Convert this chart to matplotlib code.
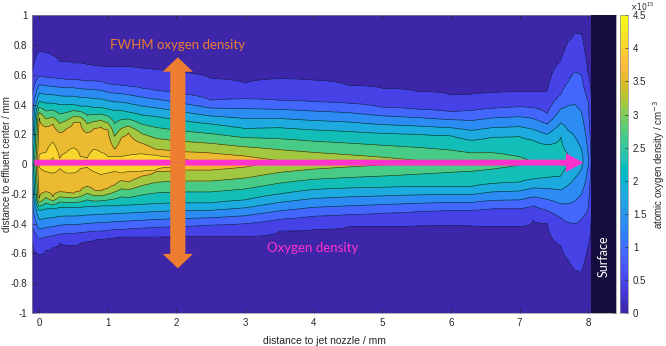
import numpy as np
import matplotlib
matplotlib.use("Agg")
from matplotlib import pyplot as plt
from matplotlib.colors import LinearSegmentedColormap, Normalize
from matplotlib.cm import ScalarMappable
from matplotlib.patches import Rectangle, FancyArrow

nan = np.nan

# measuring stations along the jet axis (mm)
x_st = [-0.1, 0.0, 0.1, 0.2, 0.3, 0.4, 0.5, 0.6, 0.7, 0.8, 0.9, 1.0, 1.1, 1.2, 1.3,
        1.5, 1.7, 2.0, 2.5, 3.0, 3.5, 4.0, 4.5, 5.0, 5.5, 6.0, 6.3, 6.6, 7.0, 7.2,
        7.4, 7.6, 7.7, 7.8, 7.9, 8.0, 8.05, 8.12, 8.4]
y_center = 0.02
# density on the axis (1e15 cm^-3)
peak = [2.0, 4.2, 4.4, 4.6, 4.2, 4.4, 4.55, 4.3, 4.25, 4.45, 4.4, 4.3, 4.3, 4.3, 4.35,
        4.3, 4.25, 4.15, 3.98, 3.8, 3.62, 3.5, 3.4, 3.3, 3.18, 3.05, 3.0, 2.95, 2.8, 2.68,
        2.55, 2.45, 2.3, 2.15, 1.95, 1.4, 0.8, 0, 0]
# y position (mm) where the profile crosses a given density, upper / lower side
up405 = [nan, 0.06, 0.08, 0.15, 0.04, 0.08, 0.11, 0.05, 0.04, 0.10, 0.08, 0.05, 0.05, 0.05, 0.06,
         0.07, 0.06, 0.045] + [nan] * 21
lo405 = [nan, -0.02, -0.05, -0.06, -0.03, -0.06, -0.06, -0.03, -0.02, -0.05, -0.07, -0.06, -0.05, -0.06, -0.05,
         -0.05, -0.04, -0.02] + [nan] * 21
up36 = [nan, 0.31, 0.25, 0.27, 0.21, 0.24, 0.28, 0.28, 0.21, 0.24, 0.25, 0.23, 0.10, 0.18, 0.21,
        0.14, 0.10, 0.085, 0.075, 0.055] + [nan] * 19
lo36 = [nan, -0.23, -0.185, -0.22, -0.185, -0.19, -0.196, -0.18, -0.15, -0.175, -0.18, -0.163, -0.14, -0.11, -0.12,
        -0.08, -0.05, -0.04, -0.04, -0.02] + [nan] * 19
up225 = [nan, 0.42, 0.41, 0.41, 0.40, 0.40, 0.40, 0.39, 0.39, 0.38, 0.38, 0.37, 0.36, 0.36, 0.35,
         0.33, 0.32, 0.30, 0.27, 0.24, 0.245, 0.23, 0.22, 0.207, 0.20, 0.19, 0.16, 0.18, 0.185, 0.16,
         0.13, 0.18, 0.07] + [nan] * 6
lo225 = [nan, -0.31, -0.30, -0.30, -0.29, -0.29, -0.29, -0.29, -0.285, -0.285, -0.28, -0.28, -0.28, -0.275, -0.275,
         -0.27, -0.265, -0.26, -0.26, -0.24, -0.20, -0.17, -0.16, -0.155, -0.15, -0.15, -0.15, -0.13, -0.12, -0.10,
         -0.09, -0.08, -0.02] + [nan] * 6
up09 = [0.46, 0.59, 0.585, 0.58, 0.575, 0.57, 0.57, 0.565, 0.56, 0.56, 0.555, 0.54, 0.535, 0.53, 0.525,
        0.51, 0.495, 0.476, 0.43, 0.44, 0.43, 0.42, 0.41, 0.383, 0.37, 0.353, 0.36, 0.375, 0.386, 0.38,
        0.34, 0.47, 0.55, 0.62, 0.60, 0.42, nan, nan, nan]
lo09 = [-0.42, -0.50, -0.49, -0.48, -0.47, -0.465, -0.465, -0.46, -0.455, -0.45, -0.45, -0.445, -0.44, -0.44, -0.435,
        -0.43, -0.425, -0.42, -0.41, -0.40, -0.37, -0.35, -0.34, -0.33, -0.32, -0.31, -0.31, -0.30, -0.30, -0.28,
        -0.31, -0.36, -0.39, -0.40, -0.37, -0.30, nan, nan, nan]
up045 = [0.62, 0.76, 0.75, 0.73, 0.69, 0.69, 0.68, 0.68, 0.67, 0.665, 0.66, 0.655, 0.655, 0.655, 0.655,
         0.645, 0.635, 0.62, 0.577, 0.545, 0.575, 0.565, 0.53, 0.51, 0.49, 0.465, 0.47, 0.48, 0.487, 0.487,
         0.49, 0.70, 0.82, 0.875, 0.88, 0.60, 0.38, nan, nan]
lo045 = [-0.52, -0.61, -0.58, -0.56, -0.53, -0.545, -0.55, -0.53, -0.52, -0.51, -0.505, -0.50, -0.495, -0.49, -0.49,
         -0.49, -0.49, -0.487, -0.487, -0.487, -0.45, -0.44, -0.42, -0.42, -0.415, -0.41, -0.415, -0.42, -0.42, -0.38,
         -0.40, -0.55, -0.64, -0.71, -0.73, -0.55, -0.30, nan, nan]

levels = [0, 0.45, 0.9, 1.35, 1.8, 2.25, 2.7, 3.15, 3.6, 4.05, 4.5, 5.0]
cb_ticks = [0, 0.5, 1, 1.5, 2, 2.5, 3, 3.5, 4, 4.5]

# parula colormap
parula = [
    [0.2422, 0.1504, 0.6603], [0.2504, 0.1650, 0.7076], [0.2578, 0.1818, 0.7511], [0.2647, 0.1978, 0.7952],
    [0.2706, 0.2147, 0.8364], [0.2751, 0.2342, 0.8710], [0.2783, 0.2559, 0.8991], [0.2803, 0.2782, 0.9221],
    [0.2813, 0.3006, 0.9414], [0.2810, 0.3228, 0.9579], [0.2795, 0.3447, 0.9717], [0.2760, 0.3667, 0.9829],
    [0.2699, 0.3892, 0.9906], [0.2602, 0.4123, 0.9952], [0.2440, 0.4358, 0.9988], [0.2206, 0.4603, 0.9973],
    [0.1963, 0.4847, 0.9892], [0.1834, 0.5074, 0.9798], [0.1786, 0.5289, 0.9682], [0.1764, 0.5499, 0.9520],
    [0.1687, 0.5703, 0.9359], [0.1540, 0.5902, 0.9218], [0.1460, 0.6091, 0.9079], [0.1380, 0.6276, 0.8973],
    [0.1248, 0.6459, 0.8883], [0.1113, 0.6635, 0.8763], [0.0952, 0.6798, 0.8598], [0.0689, 0.6948, 0.8394],
    [0.0297, 0.7082, 0.8163], [0.0036, 0.7203, 0.7917], [0.0067, 0.7312, 0.7660], [0.0433, 0.7411, 0.7394],
    [0.0964, 0.7500, 0.7120], [0.1408, 0.7584, 0.6842], [0.1717, 0.7670, 0.6554], [0.1938, 0.7758, 0.6251],
    [0.2161, 0.7843, 0.5923], [0.2470, 0.7918, 0.5567], [0.2906, 0.7973, 0.5188], [0.3406, 0.8008, 0.4789],
    [0.3909, 0.8029, 0.4354], [0.4456, 0.8024, 0.3909], [0.5044, 0.7993, 0.3480], [0.5616, 0.7942, 0.3045],
    [0.6174, 0.7876, 0.2612], [0.6720, 0.7793, 0.2227], [0.7242, 0.7698, 0.1910], [0.7738, 0.7598, 0.1646],
    [0.8203, 0.7498, 0.1535], [0.8634, 0.7406, 0.1596], [0.9035, 0.7330, 0.1774], [0.9393, 0.7288, 0.2100],
    [0.9728, 0.7298, 0.2394], [0.9956, 0.7434, 0.2371], [0.9970, 0.7659, 0.2199], [0.9952, 0.7893, 0.2028],
    [0.9892, 0.8136, 0.1885], [0.9786, 0.8386, 0.1766], [0.9676, 0.8639, 0.1643], [0.9610, 0.8890, 0.1537],
    [0.9597, 0.9135, 0.1423], [0.9628, 0.9373, 0.1265], [0.9691, 0.9606, 0.1064], [0.9769, 0.9839, 0.0805]]
cmap = LinearSegmentedColormap.from_list("parula", parula)
norm = Normalize(0, 4.5)
# matlab contourf colours a band by its lower level
band_colors = [cmap(norm(l)) for l in levels[:-1]]

# build the field column by column from the crossings
yy = np.linspace(-1, 1, 801)
Z = np.zeros((len(yy), len(x_st)))
lo_sets = [(lo045, 0.45), (lo09, 0.9), (lo225, 2.25), (lo36, 3.6), (lo405, 4.05)]
up_sets = [(up405, 4.05), (up36, 3.6), (up225, 2.25), (up09, 0.9), (up045, 0.45)]
for i in range(len(x_st)):
    ys = [-1.0]
    vs = [0.0]
    for arr, lev in lo_sets:
        if not np.isnan(arr[i]):
            ys.append(arr[i]); vs.append(lev)
    ys.append(y_center); vs.append(peak[i])
    for arr, lev in up_sets:
        if not np.isnan(arr[i]):
            ys.append(arr[i]); vs.append(lev)
    ys.append(1.0); vs.append(0.0)
    Z[:, i] = np.interp(yy, ys, vs)
X, Y = np.meshgrid(x_st, yy)

plt.rcParams['font.family'] = ['Liberation Sans', 'DejaVu Sans']
fig = plt.figure(figsize=(6.66, 3.46), dpi=100)
ax = fig.add_axes([32.3 / 666, 33 / 346, 583.4 / 666, 297.7 / 346])
ax.set_facecolor(band_colors[0])
ax.contourf(X, Y, Z, levels=levels, colors=band_colors)
ax.contour(X, Y, Z, levels=levels[1:-1], colors='k', linewidths=0.45, alpha=0.75)

# surface
ax.add_patch(Rectangle((8.04, -1), 0.4, 2, facecolor='#120c33', edgecolor='none', alpha=0.93, zorder=3))
ax.text(8.22, -0.62, "Surface", rotation=90, color='white', ha='center', va='center',
        fontsize=9, family=['Lato', 'DejaVu Sans'], zorder=4)

# magenta arrow along the axis
ax.add_patch(FancyArrow(-0.07, 0.01, 8.0, 0, width=0.04, head_width=0.125, head_length=0.255,
                        length_includes_head=True, color='#ff33cc', lw=0, zorder=5))
# orange double arrow (FWHM)
for tip in (0.718, -0.70):
    ax.add_patch(FancyArrow(2.02, 0.01, 0, tip - 0.01, width=0.22, head_width=0.44, head_length=0.097,
                            length_includes_head=True, color='#ed7d31', lw=0, zorder=6))
ax.text(2.02, 0.80, "FWHM oxygen density", color='#ed7d31', ha='center', va='center',
        fontsize=9.5, family=['Lato', 'DejaVu Sans'], zorder=6)
ax.text(3.98, -0.565, "Oxygen density", color='#ff33cc', ha='center', va='center',
        fontsize=9.5, family=['Lato', 'DejaVu Sans'], zorder=6)

ax.set_xlim(-0.1, 8.4)
ax.set_ylim(-1, 1)
xt = list(range(9))
yt = [-1, -0.8, -0.6, -0.4, -0.2, 0, 0.2, 0.4, 0.6, 0.8, 1]
ax.set_xticks(xt)
ax.set_xticklabels([str(v) for v in xt])
ax.set_yticks(yt)
ax.set_yticklabels([f"{v:g}" for v in yt])
ax.tick_params(direction='in', length=3, width=0.5, labelsize=7, colors='#262626',
               top=True, right=True)
for s in ax.spines.values():
    s.set_linewidth(0.5)
    s.set_color('#909090')
ax.set_xlabel("distance to jet nozzle / mm", fontsize=7.5, color='#262626')
ax.xaxis.set_label_coords(0.5, -0.078)
ax.set_ylabel("distance to effluent center / mm", fontsize=7, color='#262626')
ax.yaxis.set_label_coords(-0.035, 0.5)

# colorbar
cax = fig.add_axes([620 / 666, 33 / 346, 8 / 666, 297.7 / 346])
cb = fig.colorbar(ScalarMappable(norm=norm, cmap=cmap), cax=cax)
cb.set_ticks(cb_ticks)
cb.set_ticklabels([f"{v:g}" for v in cb_ticks])
cb.outline.set_linewidth(0.5)
cb.outline.set_edgecolor('#909090')
cax.tick_params(direction='in', length=2, width=0.5, labelsize=7, colors='#262626')
cb.set_label("atomic oxygen density / cm$^{-3}$", fontsize=7, color='#262626')
cax.yaxis.set_label_coords(3.9, 0.5)
cax.text(1.3, 1.016, r"$\times10^{15}$", transform=cax.transAxes, fontsize=5.5,
         color='#262626', ha='left', va='baseline')

fig.savefig("out.png", dpi=100)
